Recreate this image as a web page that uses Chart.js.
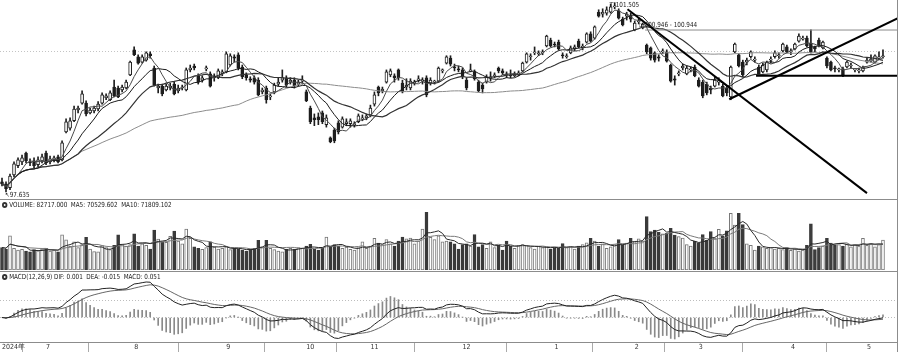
<!DOCTYPE html>
<html><head><meta charset="utf-8">
<script src="https://cdn.jsdelivr.net/npm/chart.js@4"></script>
<style>
body{margin:0;background:#fff;}
#wrap{position:relative;width:900px;height:352px;overflow:hidden;background:#fff;font-family:"DejaVu Sans Condensed","Liberation Sans",sans-serif;}
canvas{position:absolute;left:0;}
.sep{position:absolute;left:0;width:898px;height:1px;background:#8c8c8c;}
.vr{position:absolute;left:897px;top:0;width:1px;height:352px;background:#8c8c8c;}
.lbl{position:absolute;font-size:7px;color:#1a1a1a;white-space:nowrap;line-height:8px;transform:scaleX(0.9);transform-origin:0 0;}
.dot{display:inline-block;width:6px;height:6px;border-radius:50%;background:#333;box-sizing:border-box;border:2px solid #333;margin-right:2px;vertical-align:-1px;position:relative}
.dot:after{content:"";position:absolute;left:0;top:0;width:2px;height:2px;background:#fff;border-radius:50%}
</style></head>
<body>
<div id="wrap">
<canvas id="cPrice" width="897" height="199" style="top:0"></canvas>
<canvas id="cVol" width="897" height="70" style="top:200px"></canvas>
<canvas id="cMacd" width="897" height="80" style="top:272px"></canvas>
<div class="sep" style="top:199px"></div>
<div class="sep" style="top:271px"></div>
<div class="vr"></div>
<div class="lbl" style="left:2px;top:201px"><span class="dot"></span>VOLUME: 82717.000 &nbsp;MA5: 70529.602 &nbsp;MA10: 71809.102</div>
<div class="lbl" style="left:2px;top:273px"><span class="dot"></span>MACD(12,26,9) DIF: 0.001 &nbsp;DEA: -0.015 &nbsp;MACD: 0.051</div>
<div class="lbl" style="left:609px;top:1px">⊤ 101.505</div>
<div class="lbl" style="left:639px;top:21px">▫ 100.946 - 100.944</div>
<div class="lbl" style="left:5px;top:191px">↖97.635</div>
</div>
<script>
// ---- data ----
const opens = [
97.84,97.80,97.72,97.98,98.17,98.25,98.43,98.25,98.27,98.19,
98.27,98.43,98.25,98.29,98.35,98.29,98.86,98.94,99.09,99.31,
99.45,99.45,99.25,99.29,99.33,99.45,99.56,99.52,99.78,99.76,
99.72,99.76,100.03,100.54,100.40,100.29,100.33,100.46,100.17,99.76,
99.80,99.72,99.76,99.84,99.70,99.76,99.72,100.13,100.21,100.01,
99.92,100.15,100.05,99.97,99.97,100.05,100.09,100.23,100.40,100.44,
100.19,100.03,99.95,99.97,99.92,99.68,99.76,99.58,99.68,99.84,
99.92,99.97,99.88,99.92,99.84,99.90,99.68,99.35,99.15,99.17,
99.25,99.01,98.74,98.90,99.05,98.96,99.03,99.03,99.01,99.07,
99.13,99.15,99.21,99.43,99.78,99.70,99.88,100.03,100.01,100.13,
99.86,99.78,99.76,99.86,99.92,99.90,99.97,99.86,99.88,99.90,
100.11,100.27,100.37,100.19,100.15,100.13,99.92,100.11,100.09,99.88,
99.82,99.88,99.97,100.01,100.17,100.11,100.05,100.03,100.01,100.05,
100.11,100.29,100.40,100.48,100.46,100.48,100.62,100.74,100.66,100.70,
100.44,100.40,100.48,100.56,100.72,100.58,100.70,100.87,100.78,101.31,
101.27,101.29,101.31,101.42,101.34,101.17,101.23,101.23,100.95,101.11,
100.99,100.64,100.58,100.48,100.40,100.50,100.50,100.23,99.95,100.05,
100.17,100.05,100.13,100.19,99.92,99.88,99.84,99.76,99.80,99.88,
99.80,99.76,99.58,100.50,100.44,100.29,100.29,100.40,100.33,100.19,
100.09,100.13,100.33,100.40,100.42,100.52,100.60,100.50,100.56,100.72,
100.76,100.78,100.68,100.60,100.74,100.58,100.37,100.29,100.17,100.13,
100.15,100.19,100.21,100.13,100.11,100.11,100.29,100.31,100.29,100.37,100.40];
const closes = [
97.80,97.70,97.96,98.21,98.29,98.33,98.27,98.23,98.17,98.29,
98.35,98.23,98.31,98.33,98.25,98.64,99.07,99.09,99.33,99.35,
99.64,99.23,99.31,99.35,99.43,99.62,99.60,99.66,99.60,99.58,
99.78,99.88,100.29,100.44,100.27,100.40,100.48,100.42,99.82,99.80,
99.64,99.80,99.80,99.64,99.76,99.78,100.13,100.17,100.17,99.88,
99.97,100.17,99.80,100.01,100.11,100.09,100.46,100.42,100.37,100.17,
99.99,99.97,99.92,99.88,99.62,99.72,99.52,99.60,99.82,99.88,
99.97,99.82,99.92,99.80,99.88,99.92,99.50,99.07,99.11,99.11,
99.07,99.15,98.66,98.68,98.86,99.13,99.07,99.09,99.03,99.19,
99.15,99.19,99.35,99.62,99.66,99.74,100.09,100.11,99.97,99.97,
99.68,99.82,99.90,99.88,99.95,99.92,99.62,99.92,99.88,100.17,
100.11,100.40,100.25,100.17,100.13,99.99,99.76,100.13,99.95,99.70,
99.74,99.99,99.97,100.03,100.11,100.07,100.03,100.01,100.05,100.07,
100.27,100.46,100.42,100.50,100.48,100.50,100.82,100.62,100.64,100.56,
100.42,100.42,100.58,100.60,100.60,100.62,100.87,100.72,101.01,101.23,
101.31,101.36,101.42,101.44,101.19,101.05,101.27,101.17,101.09,101.13,
101.07,100.50,100.37,100.33,100.37,100.52,100.31,99.90,99.92,100.07,
100.21,100.17,100.15,100.01,99.80,99.60,99.66,99.72,99.92,99.90,
99.60,99.66,100.19,100.66,100.21,100.03,100.33,100.50,100.35,100.05,
100.23,100.29,100.33,100.48,100.44,100.66,100.50,100.52,100.66,100.82,
100.78,100.62,100.50,100.56,100.62,100.70,100.21,100.13,100.15,100.13,
100.01,100.29,100.23,100.13,100.13,100.19,100.33,100.35,100.42,100.40,100.42];
const highs = [
97.92,97.84,98.00,98.25,98.33,98.39,98.45,98.31,98.33,98.35,
98.41,98.47,98.37,98.37,98.39,98.68,99.13,99.15,99.39,99.39,
99.70,99.50,99.35,99.39,99.48,99.66,99.64,99.70,99.92,99.80,
99.82,99.92,100.31,100.60,100.44,100.44,100.50,100.50,100.21,99.84,
99.84,99.84,99.86,99.88,99.82,99.82,100.17,100.23,100.25,100.05,
100.01,100.21,100.09,100.05,100.15,100.13,100.50,100.46,100.44,100.48,
100.23,100.07,99.99,100.01,99.97,99.76,99.80,99.64,99.86,99.97,
100.13,100.01,99.97,99.97,99.92,100.01,99.72,99.39,99.23,99.25,
99.29,99.21,98.76,98.94,99.09,99.17,99.13,99.13,99.07,99.23,
99.21,99.23,99.41,99.68,99.80,99.78,100.13,100.15,100.05,100.15,
99.92,99.95,99.95,99.92,100.01,99.97,100.01,99.97,99.92,100.19,
100.15,100.42,100.42,100.25,100.21,100.17,99.97,100.25,100.13,99.92,
99.86,100.03,100.09,100.07,100.19,100.15,100.09,100.13,100.09,100.11,
100.29,100.48,100.46,100.60,100.52,100.54,100.84,100.78,100.70,100.74,
100.48,100.46,100.62,100.64,100.76,100.66,100.89,100.91,101.03,101.36,
101.38,101.42,101.48,101.505,101.38,101.21,101.31,101.29,101.13,101.19,
101.09,100.66,100.60,100.50,100.44,100.56,100.54,100.25,100.01,100.11,
100.25,100.21,100.19,100.23,99.97,99.92,99.88,99.80,99.99,99.97,
99.84,99.80,100.21,100.68,100.46,100.33,100.37,100.52,100.40,100.23,
100.27,100.31,100.40,100.52,100.48,100.68,100.64,100.56,100.68,100.87,
100.82,100.82,100.95,100.62,100.78,100.72,100.40,100.31,100.21,100.17,
100.19,100.31,100.27,100.15,100.17,100.21,100.37,100.44,100.44,100.50,100.54];
const lows = [
97.76,97.635,97.68,97.94,98.13,98.19,98.23,98.17,98.13,98.15,
98.23,98.19,98.21,98.25,98.23,98.27,98.84,98.90,99.07,99.25,
99.43,99.19,99.23,99.25,99.29,99.43,99.52,99.50,99.58,99.56,
99.68,99.74,100.01,100.42,100.25,100.27,100.31,100.37,99.80,99.66,
99.60,99.70,99.72,99.62,99.66,99.72,99.70,100.09,100.13,99.84,
99.88,100.11,99.78,99.90,99.95,100.01,100.07,100.21,100.29,100.13,
99.95,99.92,99.88,99.84,99.60,99.64,99.45,99.52,99.64,99.80,
99.88,99.78,99.84,99.76,99.80,99.84,99.48,99.03,98.99,99.01,
99.03,98.96,98.64,98.64,98.82,98.94,98.99,98.96,98.96,99.05,
99.09,99.11,99.17,99.39,99.60,99.66,99.86,99.99,99.88,99.92,
99.66,99.72,99.72,99.82,99.88,99.84,99.58,99.82,99.84,99.88,
100.07,100.25,100.21,100.11,100.09,99.95,99.72,100.09,99.92,99.68,
99.66,99.86,99.90,99.97,100.07,100.03,99.97,99.97,99.99,100.01,
100.09,100.27,100.33,100.44,100.42,100.44,100.60,100.60,100.60,100.54,
100.37,100.37,100.46,100.52,100.58,100.54,100.68,100.70,100.76,101.21,
101.21,101.25,101.29,101.38,101.17,101.03,101.15,101.11,100.93,101.07,
100.97,100.46,100.33,100.29,100.31,100.46,100.29,99.88,99.82,100.01,
100.13,100.03,100.09,99.99,99.78,99.56,99.62,99.64,99.78,99.82,
99.58,99.60,99.52,100.48,100.19,99.99,100.23,100.37,100.29,100.01,
100.07,100.09,100.27,100.37,100.37,100.50,100.48,100.44,100.54,100.70,
100.74,100.60,100.48,100.50,100.60,100.56,100.17,100.11,100.09,100.09,
99.99,100.17,100.17,100.09,100.07,100.09,100.27,100.29,100.27,100.35,100.37];
const volumes = [
62000,58000,94000,60000,55000,57000,52000,50000,56000,53000,
58000,60000,52000,55000,50000,97000,83000,65000,78000,62000,
70000,90000,58000,51000,50000,67000,62000,56000,68000,97000,
70000,66000,70000,100000,66000,72000,68000,58000,110000,85000,
78000,76000,93000,107000,80000,72000,113000,87000,64000,60000,
57000,62000,78000,63000,58000,60000,64000,56000,60000,58000,
55000,52000,58000,60000,82000,64000,82000,60000,56000,52000,
50000,58000,60000,58000,62000,60000,66000,71000,58000,55000,
60000,91000,64000,70000,66000,60000,63000,57000,55000,62000,
78000,60000,66000,87000,74000,70000,84000,72000,66000,80000,
91000,86000,88000,72000,80000,113000,159000,90000,84000,94000,
78000,80000,78000,72000,58000,70000,72000,66000,98000,64000,
70000,60000,78000,62000,68000,55000,80000,66000,60000,68000,
70000,68000,62000,58000,66000,62000,64000,58000,62000,60000,
73000,62000,64000,58000,66000,70000,75000,87000,80000,66000,
72000,60000,64000,70000,84000,70000,74000,87000,78000,86000,
80000,147000,106000,110000,104000,100000,102000,115000,96000,92000,
88000,70000,66000,80000,75000,98000,82000,106000,88000,112000,
94000,108000,156000,124000,156000,125000,72000,68000,55000,66000,
64000,60000,62000,58000,60000,56000,62000,54000,58000,52000,
55000,68000,127000,56000,62000,66000,87000,74000,68000,70000,
66000,72000,64000,70000,66000,87000,68000,72000,64000,70000,82717];
const monthLabels = ['2024年','7','8','9','10','11','12','1','2','3','4','5'];
const monthStart  = [0, 11, 33, 56, 76, 92, 115, 138, 158, 174, 197, 216];
const priceGrid = [100.5];
// drawn trend lines in data units: [index1, price1, index2, price2]
const trendThick = [[156.2, 101.37, 216, 97.61],[181.6, 99.53, 223.8, 101.19],[188.3, 100.01, 223.5, 100.01]];
const trendThin  = [[160.6, 100.946, 223.5, 100.946]];

// ---- derived indicators ----
const N = closes.length;
const idx = closes.map((_, i) => i);
const sma = (arr, n) => arr.map((_, i) => { const s = Math.max(0, i - n + 1); let t = 0; for (let k = s; k <= i; k++) t += arr[k]; return t / (i - s + 1); });
const ema = (arr, n) => { const a = 2 / (n + 1), out = []; arr.forEach((v, i) => out.push(i ? out[i-1] + a * (v - out[i-1]) : v)); return out; };
const pts = arr => arr.map((v, i) => ({x: i, y: v}));
const up = idx.map(i => closes[i] >= opens[i]);
const ema12 = ema(closes, 12), ema26 = ema(closes, 26);
const dif = ema12.map((v, i) => v - ema26[i]);
const dea = ema(dif, 9);
const hist = dif.map((v, i) => 2 * (v - dea[i]));

const X_MIN = -0.5, X_MAX = 223.5;
const INK = '#1e1e1e';
const common = {responsive:false, animation:false, events:[], layout:{padding:0},
  plugins:{legend:{display:false}, tooltip:{enabled:false}}};
const hiddenX = {type:'linear', min:X_MIN, max:X_MAX, offset:false, display:false};
const lineDs = (data, color, w, order) => ({type:'line', data, borderColor:color, borderWidth:w, pointRadius:0, fill:false, tension:0, order});

// ---- price panel ----
const priceDatasets = [
  lineDs(pts(sma(closes,5)), '#4a4a4a', 1, 0),
  lineDs(pts(sma(closes,10)), '#1a1a1a', 1, 0),
  lineDs(pts(sma(closes,20)), '#333', 1.2, 0),
  lineDs(pts(sma(closes,60)), '#8c8c8c', 1, 0),
  {type:'bar', data: idx.map(i => ({x:i, y:[Math.min(opens[i],closes[i]), Math.max(opens[i],closes[i])]})),
   backgroundColor: idx.map(i => up[i] ? '#ffffff' : INK), borderColor: INK, borderWidth:1, borderSkipped:false,
   barThickness:3, minBarLength:1, grouped:false, order:1},
  {type:'bar', data: idx.map(i => ({x:i, y:[lows[i], highs[i]]})), backgroundColor: INK, borderWidth:0,
   barThickness:1, grouped:false, order:2}
];
trendThick.forEach(t => priceDatasets.push(lineDs([{x:t[0],y:t[1]},{x:t[2],y:t[3]}], '#000', 2, -1)));
trendThin.forEach(t => priceDatasets.push(lineDs([{x:t[0],y:t[1]},{x:t[2],y:t[3]}], '#8c8c8c', 1, -1)));

new Chart(document.getElementById('cPrice'), {
  type:'bar', data:{datasets: priceDatasets},
  options:{...common, scales:{
    x: hiddenX,
    y: {min:97.49, max:101.56, position:'left', afterFit: s => { s.width = 0; },
        afterBuildTicks: s => { s.ticks = priceGrid.map(v => ({value:v})); },
        ticks:{display:false}, grid:{color:'#c4c4c4', drawTicks:false}, border:{display:false, dash:[1,2]}}
  }}
});

// ---- volume panel ----
new Chart(document.getElementById('cVol'), {
  type:'bar',
  data:{datasets:[
    lineDs(pts(sma(volumes,5)), '#2a2a2a', 1, 0),
    lineDs(pts(sma(volumes,10)), '#7a7a7a', 1, 0),
    {type:'bar', data: pts(volumes), backgroundColor: idx.map(i => up[i] ? '#ffffff' : '#3a3a3a'),
     borderColor: idx.map(i => up[i] ? '#777' : '#3a3a3a'), borderWidth:1, borderSkipped:false, barThickness:3, order:1}
  ]},
  options:{...common, scales:{ x: hiddenX, y:{min:0, max:193000, display:false} }}
});

// ---- MACD panel ----
const hi = Math.max(...dif, ...dea, ...hist), lo = Math.min(...dif, ...dea, ...hist);
const r = (hi - lo) / 57;
new Chart(document.getElementById('cMacd'), {
  type:'bar',
  data:{datasets:[
    lineDs(pts(dif), '#222', 1, 0),
    lineDs(pts(dea), '#666', 1, 0),
    {type:'bar', data: pts(hist), backgroundColor:'#8a8a8a', borderWidth:0, barThickness:1, order:1}
  ]},
  options:{...common, scales:{
    x: {type:'linear', min:X_MIN, max:X_MAX, offset:false, position:'bottom',
        afterBuildTicks: s => { s.ticks = monthStart.map(v => ({value: v - 0.5})); },
        afterFit: s => { s.height = 10; },
        ticks:{autoSkip:false, maxRotation:0, minRotation:0, align:'start', padding:-9, color:'#333',
               font:{size:7, family:'"DejaVu Sans Condensed","Liberation Sans",sans-serif'},
               callback:(v, i) => ' ' + monthLabels[i]},
        grid:{drawOnChartArea:false, drawTicks:true, tickLength:10, color:'#aaa'},
        border:{display:true, color:'#8c8c8c'}},
    y: {min: lo - 3*r, max: hi + 10*r, position:'left', afterFit: s => { s.width = 0; },
        afterBuildTicks: s => { s.ticks = [{value:0},{value:17*r}]; },
        ticks:{display:false}, grid:{color:'#bdbdbd', drawTicks:false}, border:{display:false, dash:[1,2]}}
  }}
});
</script>
</body></html>
